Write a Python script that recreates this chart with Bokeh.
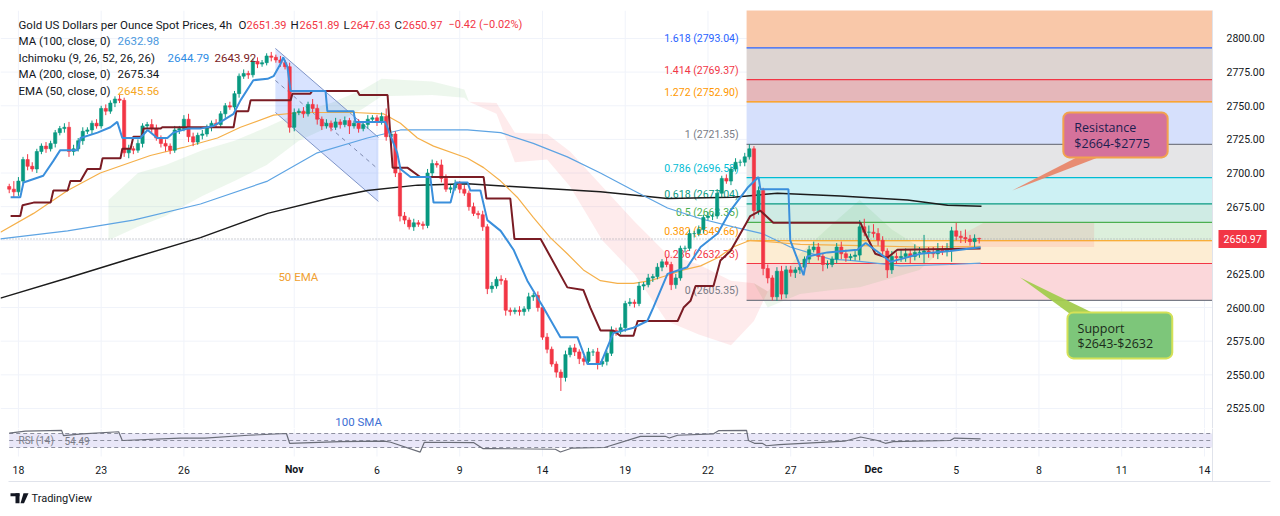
import numpy as np
from bokeh.plotting import figure
from bokeh.models import Range1d, Label, Span
from bokeh.layouts import column
from bokeh.embed import file_html
from bokeh.resources import INLINE

# ---------------- data ----------------
FIRST_BAR = -2
first_open = 2690.0
closes = [
    2688, 2686, 2694, 2710, 2705, 2703, 2716, 2720, 2718, 2722,
    2730, 2733, 2734, 2716, 2718, 2724, 2731, 2732, 2737, 2735,
    2748, 2746, 2752, 2755, 2754, 2715, 2718, 2717, 2722, 2735,
    2736, 2733, 2726, 2722, 2720, 2717, 2732, 2733, 2740, 2727,
    2723, 2728, 2729, 2734, 2737, 2736, 2744, 2750, 2749, 2759,
    2772, 2774, 2773, 2783, 2781, 2782, 2787, 2786, 2784, 2782,
    2779, 2734, 2745, 2746, 2744, 2751, 2748, 2740, 2735, 2737,
    2734, 2738, 2736, 2739, 2735, 2737, 2733, 2736, 2740, 2741,
    2738, 2742, 2727, 2729, 2700, 2668, 2665, 2660, 2663, 2662,
    2661, 2700, 2707, 2706, 2696, 2688, 2689, 2692, 2688, 2685,
    2675, 2670, 2669, 2660, 2614, 2616, 2621, 2620, 2598, 2597,
    2598, 2597, 2599, 2608, 2609, 2600, 2578, 2569, 2558, 2552,
    2548, 2565, 2570, 2567, 2562, 2560, 2567, 2567, 2558, 2560,
    2566, 2583, 2582, 2585, 2603, 2604, 2603, 2616, 2617, 2622,
    2623, 2630, 2634, 2632, 2617, 2622, 2644, 2644, 2655, 2655,
    2658, 2667, 2668, 2668, 2685, 2696, 2694, 2703, 2708, 2708,
    2712, 2718, 2672, 2687, 2629, 2622, 2608, 2627, 2610, 2628,
    2626, 2628, 2630, 2636, 2643, 2645, 2638, 2632, 2632, 2636,
    2645, 2640, 2637, 2638, 2639, 2660, 2656, 2656, 2655, 2650,
    2642, 2628, 2638, 2637, 2638, 2640, 2638, 2641, 2641, 2642,
    2641, 2640, 2643, 2642, 2644, 2657, 2653, 2652, 2651, 2649,
    2651.39, 2650.97,
]
upper_wick = [
    2, 6, 3, 2, 4, 3, 2, 2, 3, 2,
    2, 2, 3, 4, 3, 2, 3, 2, 2, 3,
    2, 3, 2, 2, 3, 2, 3, 2, 3, 2,
    2, 4, 3, 2, 3, 2, 3, 2, 3, 4,
    3, 2, 3, 2, 2, 3, 2, 2, 3, 2,
    2, 3, 2, 2, 3, 2, 2, 3, 2, 3,
    2, 3, 3, 2, 3, 2, 4, 3, 2, 3,
    2, 3, 2, 3, 2, 2, 3, 2, 3, 2,
    2, 3, 6, 3, 2, 3, 3, 2, 3, 2,
    2, 3, 3, 2, 4, 3, 2, 3, 2, 3,
    2, 3, 2, 3, 2, 3, 2, 3, 2, 2,
    2, 3, 2, 3, 2, 3, 2, 3, 2, 2,
    2, 3, 2, 3, 2, 2, 3, 2, 3, 2,
    2, 3, 2, 3, 2, 3, 2, 3, 2, 3,
    2, 3, 2, 3, 2, 3, 2, 2, 3, 2,
    3, 2, 3, 2, 3, 2, 3, 2, 3, 2,
    3, 3.35, 2, 3, 2, 3, 2, 3, 4, 3,
    3, 2, 3, 2, 3, 4, 3, 2, 3, 2,
    3, 4, 3, 2, 3, 5, 6, 5, 6, 4,
    3, 2, 4, 3, 5, 4, 3, 6, 4, 12,
    3, 4, 5, 3, 4, 3, 6, 4, 6, 3,
    3, 0.5,
]
lower_wick = [
    3, 4, 3, 2, 3, 2, 3, 2, 3, 2,
    3, 2, 3, 4, 3, 2, 3, 2, 3, 2,
    2, 3, 2, 3, 2, 3, 4, 3, 2, 3,
    2, 3, 2, 3, 4, 3, 2, 3, 2, 4,
    3, 2, 3, 2, 3, 2, 2, 3, 2, 2,
    3, 2, 3, 2, 3, 2, 2, 3, 2, 3,
    2, 4, 3, 2, 3, 2, 3, 4, 3, 2,
    3, 2, 3, 2, 6, 2, 3, 2, 3, 2,
    3, 2, 3, 4, 3, 4, 3, 2, 3, 2,
    3, 2, 3, 2, 3, 2, 3, 2, 3, 2,
    3, 2, 3, 3, 4, 3, 2, 3, 4, 3,
    2, 3, 3, 2, 3, 3, 2, 3, 2, 4,
    10, 3, 2, 3, 4, 3, 2, 3, 4, 2,
    3, 2, 3, 2, 3, 2, 3, 2, 3, 2,
    3, 2, 3, 2, 4, 3, 2, 3, 2, 3,
    2, 3, 2, 3, 2, 3, 2, 3, 2, 3,
    3, 2, 6, 3, 5, 4, 2.65, 3, 4, 3,
    3, 4, 3, 2, 3, 2, 3, 5, 3, 2,
    3, 4, 3, 2, 3, 4, 3, 4, 3, 4,
    4, 6, 3, 4, 3, 4, 5, 3, 4, 8,
    4, 3, 4, 3, 4, 10, 3, 4, 3, 3,
    4, 3.34,
]

tick_labels = ["18", "23", "26", "Nov", "6", "9", "14", "19", "22", "27", "Dec", "5", "8", "11", "14"]
tick_day = [0, 3, 6, 10, 13, 16, 19, 22, 25, 28, 31, 34, 37, 40, 43]
BARS_PER_DAY = 6
price_ticks = [2525, 2550, 2575, 2600, 2625, 2650, 2675, 2700, 2725, 2750, 2775, 2800]

ma100_bar = [-3.9, 10.7, 25, 39.6, 54.2, 65, 75.9, 83.1, 97.7, 104.9, 112, 119.4, 126.6, 133.8,
             141.2, 148.4, 155.5, 161.8, 167.9, 176.6, 181, 191.9, 202.7, 209.3]
ma100_val = [2651, 2657, 2665, 2677, 2694, 2715, 2726, 2732, 2732, 2730, 2722, 2712, 2700, 2687,
             2674, 2666, 2660, 2655, 2645, 2636, 2635, 2631, 2632, 2632.98]

ma200_bar = [-3.9, 10.7, 25, 39.6, 54.2, 68.5, 75.9, 86.8, 97.7, 112, 126.6, 141.2, 155.5, 165.1,
             178.8, 193.4, 202.1, 209.5]
ma200_val = [2607, 2622, 2637, 2652, 2670, 2682, 2687, 2691, 2692, 2689, 2686, 2681, 2682, 2685,
             2683, 2680, 2676, 2675.34]

ema50_bar = [-3.9, 3.3, 10.7, 17.8, 28.7, 35.9, 43.3, 48.3, 55.5, 61.3, 72.9, 79.4, 83.1, 86.8,
             90.3, 97.7, 101.2, 104.9, 108.5, 112, 115.7, 119.4, 122.9, 126.6, 130.3, 133.8, 137.5,
             141.2, 144.7, 148.4, 152.1, 155.5, 159.2, 170.1, 183.2, 196.2, 209.3]
ema50_val = [2656, 2670, 2687, 2700, 2713, 2719, 2726, 2734, 2743, 2745, 2745, 2744, 2737, 2726,
             2720, 2711, 2704, 2694, 2682, 2667, 2652, 2640, 2628, 2620, 2618, 2618, 2620,
             2624, 2628, 2631, 2637, 2645, 2650, 2647, 2646, 2645, 2645.56]

tenkan_bar = [-1.7, 0.4, 1.1, 5.4, 7.6, 9.1, 12.8, 13.5, 17.2, 20, 21.5, 22.6, 26.5, 28.1, 30.2,
              32.4, 33.7, 36.8, 39.6, 42.4, 44, 46.8, 48.3, 51.1, 54.2, 55.5, 57, 57.6, 58.5, 59.2,
              66.8, 67.2, 72.9, 73.3, 79.8, 82.4, 83.1, 85.3, 89.6, 90.3, 94, 95.1, 97.7, 98.3,
              100.5, 102, 104.9, 107.7, 110.7, 114.2, 117.9, 121.6, 123.8, 126.6, 129.4, 133.8,
              136.8, 138.1, 141.2, 145.5, 148.4, 152.1, 154.9, 158.6, 161, 161.4, 167.5, 167.9,
              170.8, 171.6, 176, 182.5, 184.3, 187.5, 189.7, 191.9, 196.2, 202.7, 209.3]
tenkan_val = [2682, 2682, 2693, 2698, 2709, 2717, 2717, 2726, 2730, 2734, 2738, 2726, 2726, 2732, 2726,
              2726, 2730, 2733, 2733, 2735, 2738, 2744, 2754, 2769, 2770, 2772, 2781, 2786, 2779, 2761,
              2761, 2746, 2746, 2738, 2738, 2715, 2703, 2697, 2697, 2678, 2678, 2693, 2693, 2687,
              2687, 2665, 2657, 2643, 2620, 2600, 2578, 2578, 2558, 2558, 2581, 2585,
              2590, 2600, 2625, 2630, 2645, 2655, 2672, 2689, 2697, 2688, 2688, 2650,
              2624, 2638, 2641, 2643, 2648, 2640, 2634, 2636, 2640, 2642, 2644.79]

kijun_bar = [-1.7, 0.4, 0.9, 3.3, 7, 7.6, 10.7, 11.3, 13.5, 15, 17.8, 18.3, 22.2, 22.6, 24.4, 25,
             26.8, 27.2, 30.9, 31.3, 46.8, 47.4, 50, 50.5, 59.2, 59.6, 63.5, 63.9, 73.7, 74.2,
             80.3, 81.4, 84.6, 87.4, 101.2, 101.8, 107, 107.9, 113.6, 119.4, 122.9, 124.4, 126.6,
             129.4, 130.9, 133.8, 134.7, 143.4, 144.7, 146.2, 147.3, 151.2, 152.7, 154.9, 158.2,
             159.2, 161.4, 164.2, 183.2, 183.8, 186.4, 189, 191.2, 209.3]
kijun_val = [2668, 2668, 2676, 2678, 2678, 2687, 2687, 2694, 2694, 2703, 2703, 2711, 2711, 2718, 2718, 2727,
             2727, 2733, 2733, 2734, 2734, 2746, 2746, 2754, 2754, 2759, 2759, 2761, 2761, 2758,
             2758, 2704, 2704, 2697, 2697, 2681, 2681, 2651, 2651, 2615, 2613, 2600, 2583,
             2583, 2579, 2579, 2590, 2590, 2600, 2605, 2616, 2616, 2635, 2642, 2662,
             2668, 2672, 2663, 2663, 2658, 2640, 2637, 2643, 2643.92]

cloud_bar = [19.6, 26, 32, 40, 47, 54, 61, 68, 75, 79, 90, 97, 98, 104, 108, 115, 120, 127, 134,
             141, 148, 155, 160, 163, 170, 177, 183, 190, 196, 200, 203, 210, 220, 234]
span_a = [2680, 2700, 2706, 2717, 2724, 2734, 2745, 2752, 2762, 2770, 2768, 2762, 2753, 2744, 2708,
          2710, 2690, 2650, 2625, 2590, 2580, 2572, 2590, 2612, 2640, 2662, 2680, 2658, 2645, 2640,
          2642, 2645, 2645, 2645]
span_b = [2650, 2660, 2668, 2683, 2694, 2706, 2724, 2735, 2748, 2757, 2758, 2756, 2753, 2752, 2730,
          2729, 2716, 2690, 2664, 2640, 2632, 2620, 2618, 2600, 2610, 2613, 2615, 2622, 2628, 2640,
          2650, 2663, 2664, 2663]

rsi_bar = [-2, 1.5, 9.4, 9.8, 13.9, 21.8, 22.6, 35.2, 40.5, 50, 58.3, 59, 70, 79.6, 81, 87.4, 88.3,
           99, 101, 102.7, 116.8, 117.9, 120.3, 127.5, 135.3, 140.7, 141.6, 143.4, 151.2, 152.3,
           158.4, 158.8, 160.1, 161.8, 162.7, 165.5, 179.7, 183.2, 186.9, 188.6, 190.3, 202.7,
           203.6, 209.3]
rsi_val = [71, 77, 79, 64, 69, 75, 50, 57, 57, 65, 70, 42, 47, 48, 45, 17, 45,
           44, 27, 27, 25, 17, 28, 30, 62, 62, 57, 65, 69, 78,
           79, 50, 42, 42, 35, 38, 48, 60, 50, 42, 47, 50,
           57, 54.49]
RSI_UPPER, RSI_MID, RSI_LOWER = 70, 50, 30

fib_ratio = [0, 0.236, 0.382, 0.5, 0.618, 0.786, 1, 1.272, 1.414, 1.618, 2.618]
fib_price = [2605.35, 2632.73, 2649.66, 2663.35, 2677.04, 2696.53, 2721.35, 2752.90, 2769.37, 2793.04, 2909.35]
FIB_START_BAR = 158.4

chan_bar = [55.9, 78.3]
chan_upper = [2792.6, 2726.5]
chan_lower = [2745.0, 2678.9]

res_box = dict(left=227.3, right=250.0, bottom=2711.6, top=2745.0)
res_tail_x, res_tail_y = [230.6, 235.4, 216.2], [2712.3, 2712.3, 2687.0]
sup_box = dict(left=228.2, right=251.0, bottom=2562.2, top=2596.4)
sup_tail_x, sup_tail_y = [229.3, 235.0, 217.9], [2594.0, 2594.0, 2622.4]

# ---------------- layout / styling constants ----------------
FONT = "Roboto"
TXT = "#131722"
UP, DOWN = "#089981", "#f23645"
GRID = "#f0f3fa"
SEP = "#e0e3eb"
fib_line_colors = ["#787b86", "#f23645", "#ff9800", "#4caf50", "#089981", "#00bcd4", "#787b86",
                   "#ff9800", "#f23645", "#2962ff"]
fib_band_colors = ["#fbd7da", "#fdedd3", "#dcefdc", "#cfebe4", "#cdf1f4", "#e5e5e7", "#d6e0fc",
                   "#e5b7ba", "#ddd4d1", "#f9c8a9"]

PX_PER_BAR = 4.597
X0 = -3.9                       # left edge of the chart
X1 = X0 + 1212 / PX_PER_BAR     # right edge of the chart pane (price scale starts)
XF = X0 + 1280 / PX_PER_BAR     # right edge of the page
xr = Range1d(X0, XF)
Y0, Y1 = 2510.1, 2820.8
RSI_LO, RSI_HI = -167.1, 84.3   # RSI scale of the lower strip (0.35 px per point)
RSI_PANE_BOTTOM = 4.3


def lab(fig, x, y, text, color=TXT, size="11.5px", style="normal", align="left",
        xu="screen", yu="screen", font=FONT, **kw):
    fig.add_layout(Label(x=x, y=y, x_units=xu, y_units=yu, text=text, text_color=color,
                         text_font=font, text_font_size=size, text_font_style=style,
                         text_align=align, text_baseline="middle", **kw))


# ---------------- price pane ----------------
p = figure(frame_width=1280, frame_height=418, x_range=xr, y_range=Range1d(Y0, Y1),
           output_backend="svg", toolbar_location=None, x_axis_location=None,
           y_axis_location=None, min_border_top=10, min_border_bottom=0,
           min_border_left=0, min_border_right=0)
p.outline_line_color = None
p.xgrid.grid_line_color = None
p.ygrid.grid_line_color = None

tick_bars = [d * BARS_PER_DAY for d in tick_day]
p.segment(x0=tick_bars, x1=tick_bars, y0=Y0, y1=Y1, line_color=GRID, line_width=1)
p.segment(x0=X0, x1=X1, y0=price_ticks, y1=price_ticks, line_color=GRID, line_width=1)
p.add_layout(Span(location=X1, dimension="height", line_color=SEP, line_width=1))

# fib bands
fp = np.array(fib_price)
p.quad(left=FIB_START_BAR, right=X1, bottom=fp[:-1], top=fp[1:], fill_color=fib_band_colors,
       line_color=None)

# ichimoku cloud
ca, cb = np.array(span_a, float), np.array(span_b, float)
p.varea(x=cloud_bar, y1=cb, y2=np.where(ca > cb, ca, cb), fill_color="#4caf50", fill_alpha=0.1)
p.varea(x=cloud_bar, y1=ca, y2=np.where(cb > ca, cb, ca), fill_color="#f23645", fill_alpha=0.1)

# fib level lines & labels
fl = fp[:-1]
p.segment(x0=FIB_START_BAR, x1=X1, y0=fl, y1=fl, line_color=fib_line_colors, line_width=1.2)
fib_text = [f"{r:g} ({v:.2f})" for r, v in zip(fib_ratio[:-1], fib_price[:-1])]
p.text(x=FIB_START_BAR, y=fl, text=fib_text, text_align="right", text_baseline="bottom",
       x_offset=-8, y_offset=-3, text_color=fib_line_colors, text_font_size="10.5px",
       text_font={"value": FONT})

# channel drawing
cx = chan_bar + chan_bar[::-1]
cy = chan_upper + chan_lower[::-1]
p.patch(cx, cy, fill_color="#2962ff", fill_alpha=0.18, line_color=None)
p.line(chan_bar, chan_upper, line_color="#8095c8", line_width=1)
p.line(chan_bar, chan_lower, line_color="#8095c8", line_width=1)
p.line(chan_bar, [(a + b) / 2 for a, b in zip(chan_upper, chan_lower)], line_color="#7f8bb0",
       line_width=1, line_dash="4 4")

# current price dotted line
p.segment(x0=X0, x1=X1, y0=closes[-1], y1=closes[-1], line_color="#a0a3ad", line_dash="1 2",
          line_width=1)

# moving averages
p.line(ma200_bar, ma200_val, line_color="#1c1c1c", line_width=1.5)
p.line(ma100_bar, ma100_val, line_color="#5ea4e3", line_width=1.2)
p.line(ema50_bar, ema50_val, line_color="#f5b04a", line_width=1.2)

# candles
c = np.array(closes, float)
o = np.r_[first_open, c[:-1]]
h = np.maximum(o, c) + np.array(upper_wick, float)
l = np.minimum(o, c) - np.array(lower_wick, float)
bars = np.arange(len(c)) + FIRST_BAR
cols = [UP if cc >= oo else DOWN for oo, cc in zip(o, c)]
p.segment(x0=bars, x1=bars, y0=h, y1=l, line_color=cols, line_width=1)
p.vbar(x=bars, width=0.7, top=np.maximum(o, c), bottom=np.minimum(o, c), fill_color=cols,
       line_color=cols, line_width=0.6)

# ichimoku lines
p.line(kijun_bar, kijun_val, line_color="#7a1c24", line_width=2)
p.line(tenkan_bar, tenkan_val, line_color="#3a8fdc", line_width=2)

# callouts
p.patch(res_tail_x, res_tail_y, fill_color="#e8876c", line_color=None, fill_alpha=0.95)
p.quad(left=res_box["left"], right=res_box["right"], bottom=res_box["bottom"], top=res_box["top"],
       fill_color="#d5729b", line_color="#f2a24e", line_width=2, border_radius=6)
p.patch(sup_tail_x, sup_tail_y, fill_color="#a3cc4e", line_color=None, fill_alpha=0.95)
p.quad(left=sup_box["left"], right=sup_box["right"], bottom=sup_box["bottom"], top=sup_box["top"],
       fill_color="#7dc67a", line_color="#d4e157", line_width=2, border_radius=6)

BOX_TXT = "#1c2050"
lab(p, 229.7, 2733.9, "Resistance", BOX_TXT, "12.5px", xu="data", yu="data", font="Open Sans")
lab(p, 229.7, 2722.0, "$2664-$2775", BOX_TXT, "12.5px", xu="data", yu="data", font="Open Sans")
lab(p, 230.4, 2584.5, "Support", "#1b2a1b", "12.5px", xu="data", yu="data", font="Open Sans")
lab(p, 230.4, 2573.3, "$2643-$2632", "#1b2a1b", "12.5px", xu="data", yu="data", font="Open Sans")

lab(p, 60.9, 2622.4, "50 EMA", "#f0a030", "11.5px", xu="data", yu="data", align="center")
lab(p, 74.0, 2514.6, "100 SMA", "#3d6fd4", "11.5px", xu="data", yu="data", align="center")

# price scale labels and last-price tag
for t in price_ticks:
    lab(p, 1226, t, f"{t:.2f}", TXT, "10.5px", yu="data")
p.add_layout(Label(x=1218, y=closes[-1], x_units="screen", y_units="data", text=f"{closes[-1]:.2f}",
                   text_color="white", text_font=FONT, text_font_size="10.5px",
                   text_baseline="middle", background_fill_color="#f23645", padding=5))

# legend (screen coords relative to the frame's bottom-left)
RED = "#f23645"
lo, hi, lw_, cl = o[-1], h[-1], l[-1], c[-1]
chg = cl - c[-2]
lab(p, 18, 404, "Gold US Dollars per Ounce Spot Prices, 4h")
lab(p, 238, 404, "O"); lab(p, 246, 404, f"{lo:.2f}", RED, "11px")
lab(p, 290, 404, "H"); lab(p, 299, 404, f"{hi:.2f}", RED, "11px")
lab(p, 343, 404, "L"); lab(p, 350, 404, f"{lw_:.2f}", RED, "11px")
lab(p, 394, 404, "C"); lab(p, 402, 404, f"{cl:.2f}", RED, "11px")
lab(p, 448, 404, f"\u2212{abs(chg):.2f} (\u2212{abs(chg) / c[-2] * 100:.2f}%)", RED, "11px")
lab(p, 18, 387.5, "MA (100, close, 0)"); lab(p, 117, 387.5, f"{ma100_val[-1]:.2f}", "#4a98de")
lab(p, 18, 371, "Ichimoku (9, 26, 52, 26, 26)")
lab(p, 167, 371, f"{tenkan_val[-1]:.2f}", "#2f8de4"); lab(p, 214, 371, f"{kijun_val[-1]:.2f}", "#7a1c24")
lab(p, 18, 354.5, "MA (200, close, 0)"); lab(p, 117, 354.5, f"{ma200_val[-1]:.2f}", TXT)
lab(p, 18, 338, "EMA (50, close, 0)"); lab(p, 117, 338, f"{ema50_val[-1]:.2f}", "#f5a623")

# ---------------- RSI pane + date row + footer ----------------
r = figure(frame_width=1280, frame_height=88, x_range=xr, y_range=Range1d(RSI_LO, RSI_HI),
           output_backend="svg", toolbar_location=None, x_axis_location=None, y_axis_location=None,
           min_border_top=0, min_border_left=0, min_border_right=0, min_border_bottom=0)
r.outline_line_color = None
r.xgrid.grid_line_color = None
r.ygrid.grid_line_color = None

r.segment(x0=tick_bars, x1=tick_bars, y0=RSI_PANE_BOTTOM, y1=RSI_HI, line_color=GRID, line_width=1)
r.quad(left=rsi_bar[0], right=X1, bottom=RSI_LOWER, top=RSI_UPPER, fill_color="#e9e7f8",
       line_color=None)
r.segment(x0=rsi_bar[0], x1=X1, y0=[RSI_UPPER, RSI_MID, RSI_LOWER], y1=[RSI_UPPER, RSI_MID, RSI_LOWER],
          line_color="#8e90a0", line_dash="4 3", line_width=1)
r.line(rsi_bar, rsi_val, line_color="#6a6d78", line_width=1.2)
r.segment(x0=X1, x1=X1, y0=-67.1, y1=RSI_HI, line_color=SEP, line_width=1)
r.segment(x0=X0 + 8 / PX_PER_BAR, x1=X0 + 1270 / PX_PER_BAR, y0=-67.1, y1=-67.1,
          line_color=SEP, line_width=1)

lab(r, 18, 76, "RSI (14)", "#787b86", "10px")
lab(r, 64, 76, f"{rsi_val[-1]:.2f}", "#787b86", "10px")
for b, t in zip(tick_bars, tick_labels):
    lab(r, b, 47, t, TXT, "10.5px", style=("bold" if t in ("Nov", "Dec") else "normal"),
        align="center", xu="data")

# TradingView mark + wordmark in the footer
r.quad(left=X0 + 10 / PX_PER_BAR, right=X0 + 19 / PX_PER_BAR, top=-166.3 + 23 / 0.35,
       bottom=-166.3 + 20 / 0.35, fill_color=TXT, line_color=None)
r.quad(left=X0 + 15 / PX_PER_BAR, right=X0 + 19 / PX_PER_BAR, top=-166.3 + 23 / 0.35,
       bottom=-166.3 + 13 / 0.35, fill_color=TXT, line_color=None)
r.patch([X0 + 23 / PX_PER_BAR, X0 + 28 / PX_PER_BAR, X0 + 23.5 / PX_PER_BAR, X0 + 20 / PX_PER_BAR],
        [-166.3 + 23 / 0.35, -166.3 + 23 / 0.35, -166.3 + 13 / 0.35, -166.3 + 13 / 0.35],
        fill_color=TXT, line_color=None)
lab(r, 31, 18, "TradingView", TXT, "11px")

layout = column(p, r, spacing=0)
open("out.html", "w").write(file_html(layout, INLINE))
